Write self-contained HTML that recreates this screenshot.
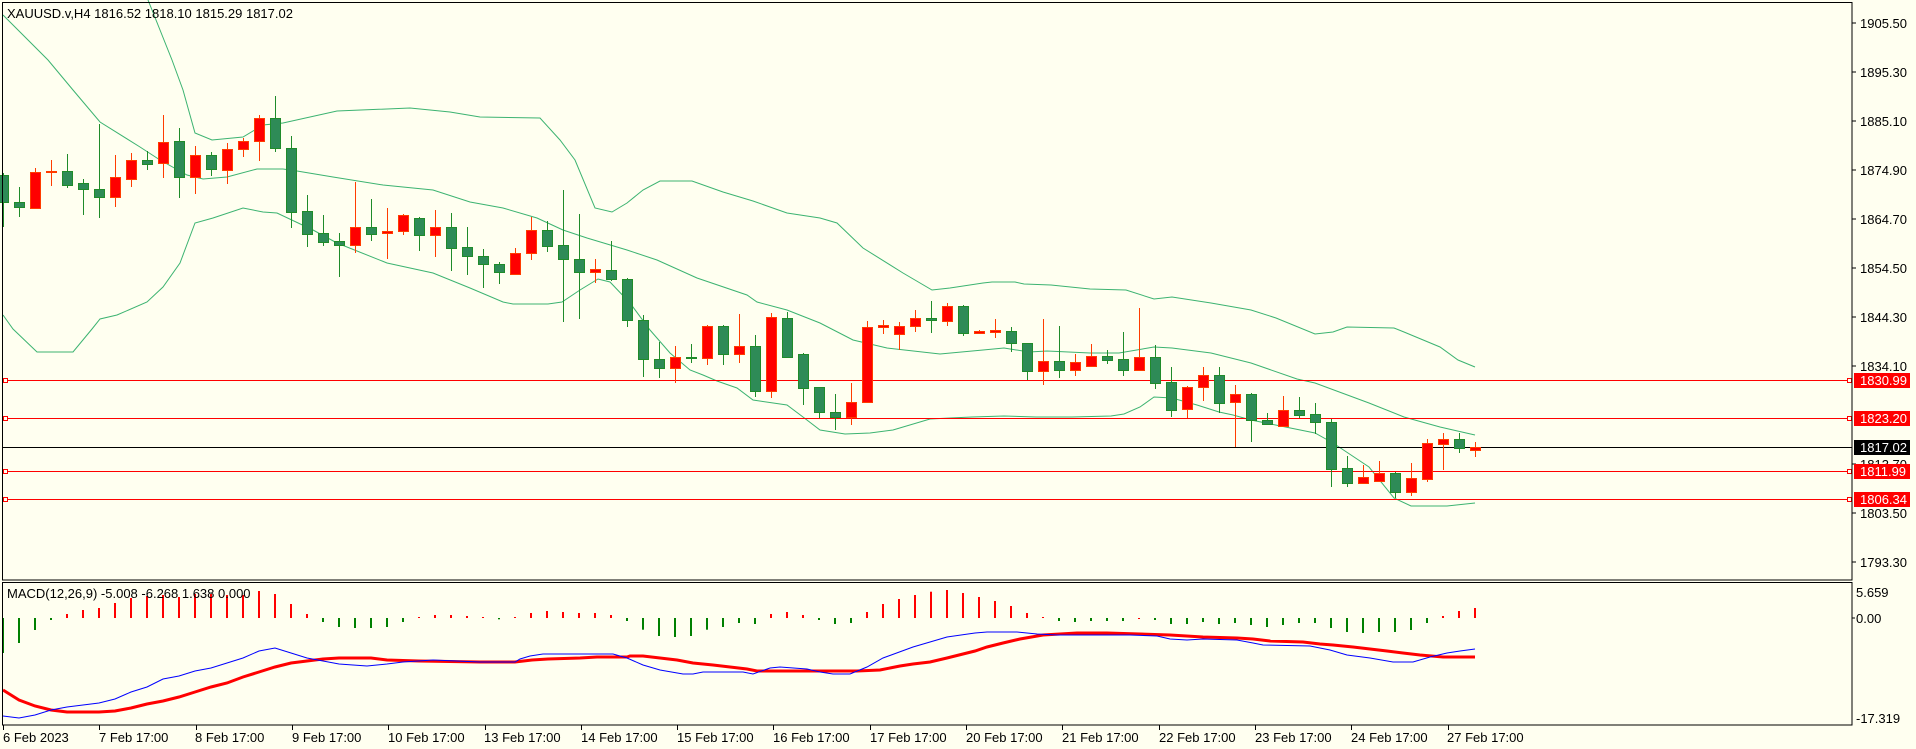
<!DOCTYPE html>
<html><head><meta charset="utf-8"><style>
html,body{margin:0;padding:0;background:#FFFFF0;}
svg{display:block;}
text{font-family:"Liberation Sans","DejaVu Sans",sans-serif;font-size:13px;fill:#000;}
</style></head><body>
<svg id="s" width="1916" height="749" viewBox="0 0 1916 749" xmlns="http://www.w3.org/2000/svg">
<rect x="0" y="0" width="1916" height="749" fill="#FFFFF0"/>
<g id="bands" fill="none" stroke="#3CB371" stroke-width="1"></g>
<g id="hl">
<line x1="2" y1="380.5" x2="1852" y2="380.5" stroke="#FF0000"/>
<line x1="2" y1="418.5" x2="1852" y2="418.5" stroke="#FF0000"/>
<line x1="2" y1="471.5" x2="1852" y2="471.5" stroke="#FF0000"/>
<line x1="2" y1="499.5" x2="1852" y2="499.5" stroke="#FF0000"/>
<line x1="2" y1="447.5" x2="1852" y2="447.5" stroke="#000"/>
<rect x="3.5" y="378.5" width="4" height="4" fill="#FFFFF0" stroke="#FF0000"/>
<rect x="3.5" y="416.5" width="4" height="4" fill="#FFFFF0" stroke="#FF0000"/>
<rect x="3.5" y="469.5" width="4" height="4" fill="#FFFFF0" stroke="#FF0000"/>
<rect x="3.5" y="497.5" width="4" height="4" fill="#FFFFF0" stroke="#FF0000"/>
<rect x="1847.5" y="378.5" width="4" height="4" fill="#FFFFF0" stroke="#FF0000"/>
<rect x="1847.5" y="416.5" width="4" height="4" fill="#FFFFF0" stroke="#FF0000"/>
<rect x="1847.5" y="469.5" width="4" height="4" fill="#FFFFF0" stroke="#FF0000"/>
<rect x="1847.5" y="497.5" width="4" height="4" fill="#FFFFF0" stroke="#FF0000"/>
</g>
<g id="candles"></g>
<g id="macd"></g>
<rect x="2.5" y="2.5" width="1849.5" height="577.5" fill="none" stroke="#000" stroke-width="1"/>
<rect x="2.5" y="582.5" width="1849.5" height="142.5" fill="none" stroke="#000" stroke-width="1"/>
<text x="7" y="18">XAUUSD.v,H4  1816.52 1818.10 1815.29 1817.02</text>
<text x="7" y="598">MACD(12,26,9) -5.008 -6.268 1.638 0.000</text>
<g stroke="#000">
<line x1="1852" y1="23" x2="1856" y2="23"/><line x1="1852" y1="72" x2="1856" y2="72"/>
<line x1="1852" y1="121" x2="1856" y2="121"/><line x1="1852" y1="170" x2="1856" y2="170"/>
<line x1="1852" y1="219" x2="1856" y2="219"/><line x1="1852" y1="268" x2="1856" y2="268"/>
<line x1="1852" y1="317" x2="1856" y2="317"/><line x1="1852" y1="366" x2="1856" y2="366"/>
<line x1="1852" y1="464" x2="1856" y2="464"/><line x1="1852" y1="513" x2="1856" y2="513"/>
<line x1="1852" y1="562" x2="1856" y2="562"/>
<line x1="1852" y1="618" x2="1855" y2="618"/>
</g>
<text x="1860" y="28">1905.50</text>
<text x="1860" y="77">1895.30</text>
<text x="1860" y="126">1885.10</text>
<text x="1860" y="175">1874.90</text>
<text x="1860" y="224">1864.70</text>
<text x="1860" y="273">1854.50</text>
<text x="1860" y="322">1844.30</text>
<text x="1860" y="371">1834.10</text>
<text x="1860" y="420">1823.90</text>
<text x="1860" y="469">1813.70</text>
<text x="1860" y="518">1803.50</text>
<text x="1860" y="567">1793.30</text>
<rect x="1854" y="373" width="56" height="15" fill="#FF0000"/>
<text x="1860" y="385" style="fill:#fff">1830.99</text>
<rect x="1854" y="411" width="56" height="15" fill="#FF0000"/>
<text x="1860" y="423" style="fill:#fff">1823.20</text>
<rect x="1854" y="440" width="56" height="15" fill="#000"/>
<text x="1860" y="452" style="fill:#fff">1817.02</text>
<rect x="1854" y="464" width="56" height="15" fill="#FF0000"/>
<text x="1860" y="476" style="fill:#fff">1811.99</text>
<rect x="1854" y="492" width="56" height="15" fill="#FF0000"/>
<text x="1860" y="504" style="fill:#fff">1806.34</text>
<text x="1856" y="597">5.659</text>
<text x="1856" y="623">0.00</text>
<text x="1856" y="723">-17.319</text>
<g id="tt" stroke="#000"></g>
<g>
<text x="3" y="742">6 Feb 2023</text>
<text x="99" y="742">7 Feb 17:00</text>
<text x="195" y="742">8 Feb 17:00</text>
<text x="292" y="742">9 Feb 17:00</text>
<text x="388" y="742">10 Feb 17:00</text>
<text x="484" y="742">13 Feb 17:00</text>
<text x="581" y="742">14 Feb 17:00</text>
<text x="677" y="742">15 Feb 17:00</text>
<text x="773" y="742">16 Feb 17:00</text>
<text x="870" y="742">17 Feb 17:00</text>
<text x="966" y="742">20 Feb 17:00</text>
<text x="1062" y="742">21 Feb 17:00</text>
<text x="1159" y="742">22 Feb 17:00</text>
<text x="1255" y="742">23 Feb 17:00</text>
<text x="1351" y="742">24 Feb 17:00</text>
<text x="1447" y="742">27 Feb 17:00</text>
</g>
</svg>
<script>
var NS="http://www.w3.org/2000/svg";
function el(p,t,a){var e=document.createElementNS(NS,t);for(var k in a)e.setAttribute(k,a[k]);p.appendChild(e);return e;}
var C=[
"g 175 202 173 227","g 202 207 187 217","r 172 208 168 209","r 171 172 160 186","g 171 185 154 188","g 183 189 179 215","g 189 197 124 218","r 177 197 155 207","r 160 179 153 187","g 160 164 151 170",
"r 142 163 115 178","g 141 177 128 198","r 155 177 146 194","g 155 169 152 176","r 149 170 143 184","r 141 149 138 157","r 118 141 115 161","g 118 148 96 152","g 148 212 136 228","g 211 234 195 247",
"g 233 242 215 246","g 241 245 233 277","r 227 245 182 253","g 227 234 199 241","r 231 233 208 259","r 215 231 214 235","g 218 235 217 251","r 227 235 210 257","g 227 248 213 271","g 247 256 227 275",
"g 256 264 249 288","g 264 272 262 284","r 253 274 248 275","r 230 253 217 260","g 230 246 221 252","g 245 259 190 322","g 259 272 214 319","r 269 272 259 283","g 270 279 241 281","g 279 320 278 327",
"g 320 359 315 377","g 359 368 342 378","r 357 368 346 383","g 357 358 344 363","r 326 358 325 365","g 326 354 325 365","r 346 354 314 363","g 346 391 335 397","r 317 391 313 398","g 318 357 312 358",
"g 354 388 353 405","g 387 412 387 418","g 412 417 394 430","r 402 417 383 425","r 327 402 321 402","r 325 327 320 334","r 326 334 322 350","r 318 326 310 332","g 318 320 301 333","r 306 321 303 326",
"g 306 333 305 336","r 331 333 330 334","r 330 332 319 338","g 331 343 327 352","g 343 371 343 380","r 361 371 319 385","g 361 370 326 378","r 362 370 354 376","r 356 366 344 366","g 356 360 350 364",
"g 359 370 332 376","r 357 370 308 371","g 357 383 345 389","g 382 410 367 417","r 387 409 386 418","r 375 387 367 401","g 375 403 367 413","r 394 402 385 447","g 394 420 393 442","g 420 424 413 424",
"r 410 426 396 426","g 410 415 397 418","g 414 422 403 434","g 422 469 419 487","g 468 483 456 487","r 477 483 465 484","r 473 481 461 481","g 473 492 472 498","r 478 492 463 496","r 443 479 439 482",
"r 439 444 433 470","g 439 448 433 453","r 447 450 442 457"];
var cg=document.getElementById("candles");
C.forEach(function(s,i){var v=s.split(" "),t=v[0],bt=+v[1],bb=+v[2],wt=+v[3],wb=+v[4];
 var cx=Math.round(3.3+16*i)+0.5;
 var stroke=t=="r"?"#FF3C00":"#1F8B2A", fill=t=="r"?"#FF0000":"#2E8B57";
 el(cg,"line",{x1:cx,y1:Math.min(wt,bt),x2:cx,y2:Math.max(wb,bb),stroke:stroke});
 var h=Math.max(bb-bt,1);
 el(cg,"rect",{x:cx-5,y:bt+0.5,width:10,height:h,fill:fill,stroke:stroke});
});
function pl(g,pts,col,w){el(g,"polyline",{points:pts,fill:"none",stroke:col,"stroke-width":w});}
var bg=document.getElementById("bands");
pl(bg,"148,0 172,60 183,90 195,133 212,140 243,137 263,125 283,123 337,111 410,108 450,112 480,117 540,118 560,140 575,160 595,208 612,212 627,203 643,190 660,181 692,181 723,192 753,201 787,213 820,218 837,223 863,248 903,273 932,290 950,288 983,283 992,282 1015,282 1024,284 1051,285 1090,289 1126,290 1154,299 1172,297 1211,303 1251,310 1276,318 1315,334 1333,332 1347,327 1394,328 1404,332 1440,347 1458,360 1475,367","#3CB371",1);
pl(bg,"3,15 48,60 73,90 100,122 140,147 160,160 187,175 203,179 227,177 257,169 283,169 297,171 333,177 383,185 433,190 470,202 503,208 537,218 563,230 587,238 627,250 657,260 697,278 747,295 757,302 787,310 820,323 853,340 887,348 940,354 983,350 1004,348 1029,352 1047,351 1090,353 1119,353 1154,347 1172,348 1211,353 1251,363 1297,379 1315,383 1369,403 1404,417 1440,427 1475,435","#3CB371",1);
pl(bg,"3,315 13,329 37,352 73,352 92,329 100,319 117,315 147,302 163,287 180,263 195,223 213,218 243,208 263,212 277,213 313,230 337,243 387,263 433,273 470,288 503,302 513,304 548,304 562,302 580,290 598,279 610,282 630,303 650,330 670,353 690,370 703,375 717,381 737,388 753,400 787,405 803,417 820,430 845,434 870,433 893,430 930,419 950,418 972,417 1004,416 1036,417 1072,417 1111,416 1124,414 1140,407 1154,397 1172,398 1197,405 1219,412 1233,415 1251,420 1315,433 1333,443 1369,467 1394,498 1411,506 1447,506 1475,503","#3CB371",1);
var H=[653,643,630,620,614,610,608,603,598,596,595,597,594,594,595,595,591,594,604,614,622,627,628,628,627,622,617,615,615,616,
617,619.3,617,613,611,612,613,613,615,621,629.7,636,637,636,629.7,627,623,624,614,612,615,620,624,623,612,604,599,595,591.7,590,593,597,
601,606,613,617,621,622,621,621,621,618,620,624,624,622,624,623,625,627,625,623,623,628,632,633,632,632,630,623,616,611,608];
var G=[[0,3],[20,25],[31,31],[39,47],[51,53],[66,70],[72,89]];
function isG(i){for(var k=0;k<G.length;k++)if(i>=G[k][0]&&i<=G[k][1])return true;return false;}
var mg=document.getElementById("macd");
H.forEach(function(y,i){var cx=Math.round(3.3+16*i);var base=618;
 var top=Math.min(y,base),h=Math.max(Math.abs(y-base),1);
 el(mg,"rect",{x:cx-1,y:top,width:2,height:h,fill:isG(i)?"#008000":"#FF0000"});});
pl(mg,"3,690 19,700 35,706 51,710 67,712 99,712 115,711 131,708 147,704 163,701 179,697 195,692 211,687 227,683 243,677 259,672 275,667 291,663 307,661 323,659 339,658 371,658 387,660 419,661 480,662 515,662 532,660 548,659 580,658 597,657 627,657 630,656 643,656 660,658 677,660 693,663 713,665 747,669 757,671 857,671 880,670 900,666 913,664 930,662 947,658 963,654 975,651 987,647 1003,643 1020,639 1043,635 1060,634 1077,633 1107,633 1140,634 1170,635 1203,637 1237,638 1253,639 1270,641 1303,642 1320,644 1333,645 1353,647 1370,649 1387,651 1403,653 1420,655 1443,657 1475,657","#FF0000",3);
pl(mg,"3,716 19,718 35,715 51,710 67,707 99,703 115,699 131,692 147,687 163,679 179,676 195,671 211,668 227,663 243,658 259,651 275,648 291,653 307,658 323,661 339,664 367,666 387,664 403,662 433,660 480,662 515,662 520,659 530,656 543,654 613,654 627,658 643,665 660,670 683,674 693,674 703,672 730,672 743,672 753,674 770,668 780,667 807,669 820,672 833,674 850,674 867,667 883,658 913,647 947,637 975,633 987,632 1017,632 1037,634 1057,635 1100,635 1130,635 1157,636 1170,639 1187,640 1203,639 1237,640 1253,643 1263,645 1310,646 1330,650 1347,655 1370,658 1393,662 1413,662 1430,657 1447,653 1460,651 1475,649","#0000FF",1);
var tt=document.getElementById("tt");
for(var i=0;i<16;i++){var x=Math.round(3+96.3*i)+0.5;el(tt,"line",{x1:x,y1:725,x2:x,y2:730});}
</script>
</body></html>
